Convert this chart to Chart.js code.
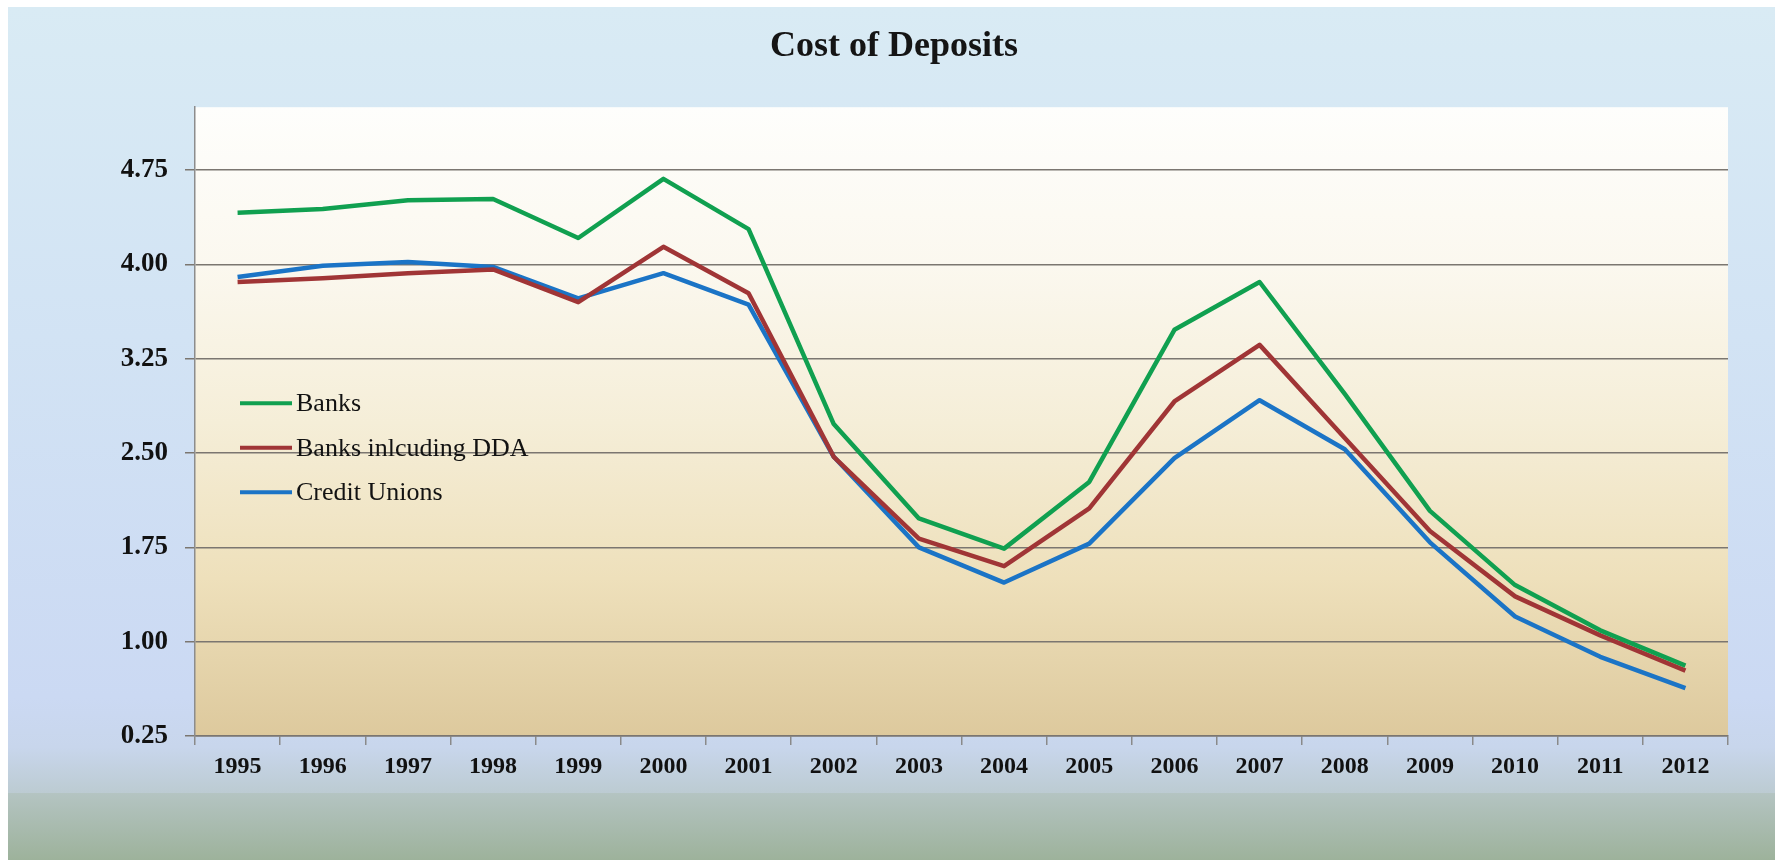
<!DOCTYPE html>
<html>
<head>
<meta charset="utf-8">
<title>Cost of Deposits</title>
<script src="https://cdn.jsdelivr.net/npm/chart.js@4.4.1/dist/chart.umd.min.js"></script>
<style>
  html, body { margin: 0; padding: 0; background: #ffffff; overflow: hidden; }
  .slide {
    position: absolute; left: 8px; top: 7px; width: 1767px; height: 853px;
    background: linear-gradient(to bottom,
      #d9ebf4 0px, #d2e3f4 330px, #cbd9f3 690px, #c8d6ec 740px,
      #bccbd2 786px, #b4c4c2 786px, #9db29b 853px);
  }
  #chartBox { position: absolute; left: 0; top: 0; width: 1775px; height: 860px; }
</style>
</head>
<body>
<div class="slide"></div>
<div id="chartBox"><canvas id="deposits" width="1775" height="860"></canvas></div>
<script>
// Years on the x axis
const years = ['1995', '1996', '1997', '1998', '1999', '2000', '2001', '2002', '2003',
               '2004', '2005', '2006', '2007', '2008', '2009', '2010', '2011', '2012'];

// Cost of deposits, percent
const banks = [4.41, 4.44, 4.51, 4.52, 4.21, 4.68, 4.28, 2.73, 1.98,
               1.74, 2.27, 3.48, 3.86, 2.97, 2.04, 1.45, 1.09, 0.81];
const banksWithDDA = [3.86, 3.89, 3.93, 3.96, 3.70, 4.14, 3.77, 2.47, 1.82,
                      1.60, 2.06, 2.91, 3.36, 2.62, 1.88, 1.36, 1.05, 0.77];
const creditUnions = [3.90, 3.99, 4.02, 3.98, 3.73, 3.93, 3.68, 2.47, 1.75,
                      1.47, 1.78, 2.46, 2.92, 2.53, 1.79, 1.20, 0.88, 0.63];

// Value axis labels
const yTicks = [0.25, 1.00, 1.75, 2.50, 3.25, 4.00, 4.75];
const yMin = 0.25;
const yMax = 5.25;

const serif = "'Liberation Serif', 'Times New Roman', serif";

// Cream-to-tan fill behind the plot
const plotBackground = {
  id: 'plotBackground',
  beforeDraw(chart) {
    const { ctx, chartArea: { left, top, right, bottom } } = chart;
    const g = ctx.createLinearGradient(0, top, 0, bottom);
    g.addColorStop(0, '#fefefc');
    g.addColorStop(0.25, '#fbf8ef');
    g.addColorStop(0.5, '#f5eed8');
    g.addColorStop(0.75, '#eee0bb');
    g.addColorStop(1, '#ddc99d');
    ctx.save();
    ctx.fillStyle = g;
    ctx.fillRect(left, top, right - left, bottom - top);
    ctx.restore();
  }
};

// Legend sits inside the plot, on the left
const insideLegend = {
  id: 'insideLegend',
  afterDatasetsDraw(chart) {
    const { ctx, chartArea } = chart;
    const x0 = chartArea.left + 45;
    const x1 = chartArea.left + 97;
    ctx.save();
    ctx.font = '26px ' + serif;
    ctx.textBaseline = 'middle';
    ctx.textAlign = 'left';
    chart.data.datasets.forEach((ds, i) => {
      const y = chartArea.top + 296 + i * 44.5;
      ctx.strokeStyle = ds.borderColor;
      ctx.lineWidth = 4;
      ctx.beginPath();
      ctx.moveTo(x0, y);
      ctx.lineTo(x1, y);
      ctx.stroke();
      ctx.fillStyle = '#121212';
      ctx.fillText(ds.label, x1 + 4, y + 1);
    });
    ctx.restore();
  }
};

const lineStyle = { borderWidth: 4.5, pointRadius: 0, tension: 0, fill: false, borderJoinStyle: 'round' };

new Chart(document.getElementById('deposits'), {
  type: 'line',
  data: {
    labels: years,
    datasets: [
      { label: 'Banks', data: banks, borderColor: '#10a050', ...lineStyle },
      { label: 'Banks inlcuding DDA', data: banksWithDDA, borderColor: '#a03536', ...lineStyle },
      { label: 'Credit Unions', data: creditUnions, borderColor: '#1b74c6', ...lineStyle }
    ]
  },
  options: {
    responsive: false,
    animation: false,
    devicePixelRatio: 1,
    layout: { padding: { left: 60, right: 47, top: 0, bottom: 0 } },
    plugins: {
      legend: { display: false },
      tooltip: { enabled: false },
      title: {
        display: true,
        text: 'Cost of Deposits',
        color: '#151515',
        font: { family: serif, size: 36, weight: 'bold' },
        padding: { top: 25, bottom: 39 }
      }
    },
    scales: {
      x: {
        offset: true,
        grid: { display: true, drawOnChartArea: false, offset: true, tickLength: 9, color: '#8a8a8a', lineWidth: 1.5 },
        border: { display: true, color: '#7b7670', width: 1.5 },
        ticks: { color: '#111111', font: { family: serif, size: 24, weight: 'bold' }, padding: 7, maxRotation: 0 },
        afterFit(scale) { scale.height = 124; }
      },
      y: {
        min: yMin,
        max: yMax,
        afterBuildTicks(scale) { scale.ticks = yTicks.map(v => ({ value: v })); },
        grid: { color: '#7b7670', lineWidth: 1.5, tickLength: 10 },
        border: { display: true, color: '#8c8c8c', width: 1.5 },
        ticks: {
          color: '#111111',
          font: { family: serif, size: 27, weight: 'bold' },
          padding: 17,
          callback: v => Number(v).toFixed(2)
        },
        afterFit(scale) { scale.width = 135; }
      }
    }
  },
  plugins: [plotBackground, insideLegend]
});
</script>
</body>
</html>
